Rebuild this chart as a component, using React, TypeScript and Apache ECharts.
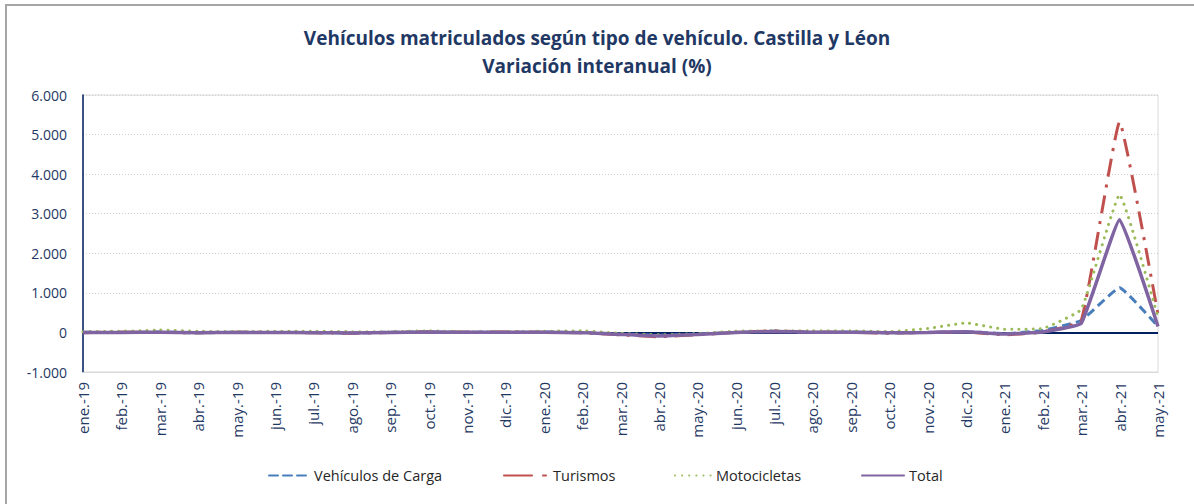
import React, { useEffect, useRef } from "react";
import * as echarts from "echarts";

const categories = [
  "ene.-19", "feb.-19", "mar.-19", "abr.-19", "may.-19", "jun.-19", "jul.-19", "ago.-19", "sep.-19", "oct.-19", "nov.-19", "dic.-19",
  "ene.-20", "feb.-20", "mar.-20", "abr.-20", "may.-20", "jun.-20", "jul.-20", "ago.-20", "sep.-20", "oct.-20", "nov.-20", "dic.-20",
  "ene.-21", "feb.-21", "mar.-21", "abr.-21", "may.-21",
];

const carga = [5, -5, 10, -10, 5, -5, 0, -15, 5, 10, 5, 0, 10, 0, -40, -70, -40, 0, 30, 0, 10, -10, 0, 20, -30, 50, 300, 1130, 150];
const turismos = [-5, 10, 0, -10, 5, 0, -10, -20, 0, 15, 5, 10, 5, -10, -60, -110, -60, 0, 40, 10, 5, -20, 0, 10, -60, 10, 300, 5320, 450];
const motocicletas = [20, 30, 60, 30, 20, 30, 30, 20, 20, 40, 20, 20, 30, 40, -20, -60, -30, 30, 40, 40, 40, 20, 100, 240, 80, 100, 580, 3480, 380];
const total = [0, 0, 5, -5, 0, 0, -5, -15, 0, 10, 5, 5, 5, -5, -50, -90, -55, 0, 25, 5, 5, -10, 0, 15, -40, 10, 230, 2850, 150];

const seriesNames = ["Vehículos de Carga", "Turismos", "Motocicletas", "Total"];
const titleLines = ["Vehículos matriculados según tipo de vehículo. Castilla y Léon", "Variación interanual (%)"];

const FONT = "'Open Sans', 'Noto Sans', sans-serif";
const NAVY = "#1F3864";

function fmt(v: number) {
  const s = Math.abs(v).toString().replace(/\B(?=(\d{3})+(?!\d))/g, ".");
  return (v < 0 ? "-" : "") + s;
}

const legendLayout = [
  { left: 268, width: 40, type: [9, 5] as any },
  { left: 503, width: 44, type: [28, 11, 3, 8] as any },
  { left: 674, width: 36, type: [0.1, 7] as any },
  { left: 861, width: 42, type: "solid" as any },
];

export default function App() {
  const ref = useRef<HTMLDivElement>(null);
  useEffect(() => {
    if (!ref.current) return;
    const chart = echarts.init(ref.current, undefined, { renderer: "svg" });
    chart.setOption({
      animation: false,
      backgroundColor: "#ffffff",
      graphic: [
        {
          type: "rect",
          shape: { x: 6, y: 5, width: 1200, height: 510 },
          style: { fill: "none", stroke: "#a6a6a6", lineWidth: 2 },
          silent: true,
        },
        ...titleLines.map((t, i) => ({
          type: "text",
          x: 597,
          y: 38 + i * 28,
          silent: true,
          style: {
            text: t,
            textAlign: "center",
            textVerticalAlign: "middle",
            fontFamily: FONT,
            fontSize: 19,
            fontWeight: "bold",
            fill: NAVY,
          },
        })),
      ],
      legend: seriesNames.map((n, i) => ({
        top: 468,
        left: legendLayout[i].left,
        padding: 0,
        itemWidth: legendLayout[i].width,
        itemHeight: 14,
        itemStyle: { opacity: 0 },
        lineStyle: { type: legendLayout[i].type, cap: "round" },
        textStyle: { fontFamily: FONT, fontSize: 14.5, color: "#262626" },
        data: [n],
      })),
      grid: {
        left: 83,
        right: 36,
        top: 95,
        bottom: 132,
        show: true,
        borderColor: "#d9d9d9",
        borderWidth: 1,
      },
      xAxis: {
        type: "category",
        data: categories,
        boundaryGap: false,
        axisLine: { onZero: false, lineStyle: { color: "#d9d9d9" } },
        axisTick: { show: false },
        axisLabel: { rotate: 90, margin: 10, fontFamily: FONT, fontSize: 15, color: NAVY, interval: 0 },
      },
      yAxis: {
        type: "value",
        min: -1000,
        max: 6000,
        interval: 1000,
        axisLine: { show: true, lineStyle: { color: "#002060", width: 1.5 } },
        axisTick: { show: false },
        axisLabel: { fontFamily: FONT, fontSize: 14, color: NAVY, margin: 16, formatter: (v: number) => fmt(v) },
        splitLine: { lineStyle: { color: "#d0d0d0", type: [1, 2] } },
      },
      series: [
        {
          name: seriesNames[0],
          type: "line",
          data: carga,
          smooth: 0.1,
          symbol: "none",
          color: "#4A7EBB",
          lineStyle: { width: 3, type: [9, 5], color: "#4A7EBB" },
          markLine: {
            silent: true,
            symbol: "none",
            z: 1,
            label: { show: false },
            lineStyle: { color: "#002060", width: 2, type: "solid" },
            data: [{ yAxis: 0 }],
          },
        },
        {
          name: seriesNames[1],
          type: "line",
          data: turismos,
          smooth: 0.1,
          symbol: "none",
          color: "#C0504D",
          lineStyle: { width: 3, type: [18, 8, 3, 8], color: "#C0504D" },
        },
        {
          name: seriesNames[2],
          type: "line",
          data: motocicletas,
          smooth: 0.1,
          symbol: "none",
          color: "#9BBB59",
          lineStyle: { width: 3, type: [0.1, 7], cap: "round", color: "#9BBB59" },
        },
        {
          name: seriesNames[3],
          type: "line",
          data: total,
          smooth: 0.1,
          symbol: "none",
          color: "#8064A2",
          lineStyle: { width: 3.5, color: "#8064A2" },
        },
      ],
    });
    return () => chart.dispose();
  }, []);
  return (
    <div
      ref={ref}
      style={{ position: "absolute", left: 0, top: 0, width: 1194, height: 504 }}
    />
  );
}
